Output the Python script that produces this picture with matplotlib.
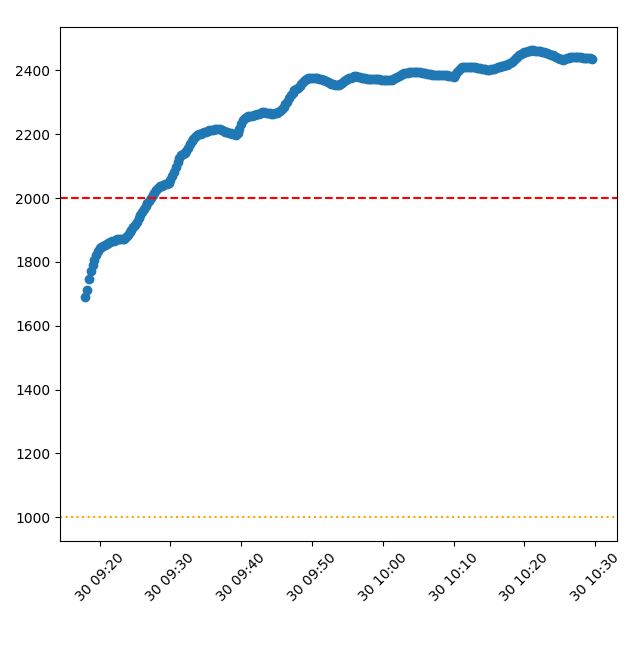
import pandas as pd
import matplotlib
matplotlib.use('Agg')
import matplotlib.pyplot as plt

# readings every 15 s, starting 09:18 (one row = 2 minutes)
start_time = '2024-01-30 09:18:00'
values = [
    1690, 1712, 1745, 1770, 1790, 1805, 1822, 1834,
    1842, 1847, 1851, 1854, 1856, 1859, 1861, 1864,
    1866, 1869, 1871, 1872, 1873, 1873, 1873, 1878,
    1885, 1893, 1900, 1908, 1916, 1926, 1936, 1946,
    1956, 1965, 1975, 1984, 1992, 2000, 2008, 2016,
    2024, 2031, 2037, 2039, 2041, 2043, 2045, 2048,
    2055, 2068, 2082, 2097, 2112, 2124, 2134, 2139,
    2142, 2148, 2157, 2168, 2178, 2186, 2192, 2196,
    2199, 2201, 2203, 2206, 2208, 2210, 2212, 2213,
    2214, 2216, 2217, 2217, 2216, 2214, 2211, 2208,
    2206, 2205, 2204, 2202, 2199, 2198, 2203, 2216,
    2232, 2243, 2250, 2254, 2256, 2257, 2258, 2259,
    2260, 2262, 2264, 2266, 2268, 2268, 2267, 2266,
    2265, 2264, 2264, 2265, 2266, 2268, 2272, 2278,
    2285, 2293, 2302, 2312, 2322, 2330, 2337, 2342,
    2346, 2352, 2358, 2364, 2369, 2373, 2376, 2377,
    2377, 2377, 2376, 2375, 2374, 2372, 2370, 2368,
    2365, 2362, 2360, 2358, 2357, 2355, 2354, 2354,
    2356, 2361, 2366, 2369, 2372, 2375, 2377, 2379,
    2381, 2381, 2380, 2378, 2376, 2375, 2375, 2374,
    2374, 2374, 2374, 2373, 2373, 2372, 2372, 2371,
    2371, 2371, 2371, 2370, 2370, 2371, 2372, 2375,
    2379, 2383, 2386, 2388, 2390, 2392, 2393, 2394,
    2395, 2395, 2395, 2395, 2395, 2394, 2393, 2391,
    2390, 2389, 2388, 2387, 2386, 2386, 2386, 2386,
    2386, 2386, 2386, 2385, 2384, 2383, 2382, 2381,
    2380, 2386, 2395, 2402, 2407, 2409, 2410, 2410,
    2410, 2410, 2410, 2409, 2409, 2408, 2407, 2406,
    2405, 2404, 2403, 2402, 2402, 2403, 2404, 2405,
    2407, 2409, 2410, 2412, 2413, 2415, 2417, 2420,
    2423, 2427, 2432, 2437, 2442, 2447, 2451, 2454,
    2456, 2458, 2460, 2461, 2462, 2462, 2461, 2460,
    2460, 2459, 2458, 2456, 2455, 2453, 2451, 2449,
    2447, 2444, 2442, 2439, 2436, 2434, 2433, 2436,
    2438, 2440, 2442, 2442, 2442, 2442, 2442, 2441,
    2441, 2440, 2440, 2439, 2439, 2437, 2436,
]
times = pd.date_range(start_time, periods=len(values), freq='15s')

upper_limit = 2000
lower_limit = 1000

fig, ax = plt.subplots(figsize=(6.4, 6.46), dpi=100)
ax.scatter(times, values)
ax.axhline(upper_limit, color='red', linestyle='--')
ax.axhline(lower_limit, color='orange', linestyle=':')
plt.xticks(rotation=45)
plt.subplots_adjust(left=0.094, right=0.964, top=0.958, bottom=0.163)
plt.savefig('out.png', dpi=100)
